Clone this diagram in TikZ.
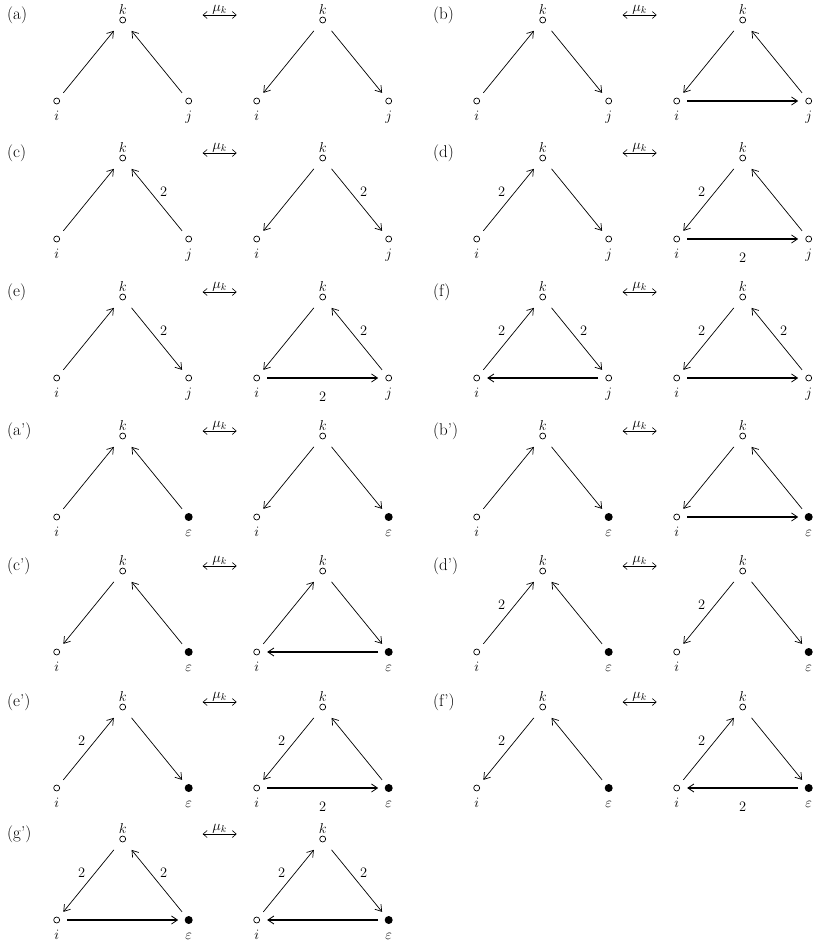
\documentclass[tikz,border=0pt]{standalone}
\usetikzlibrary{arrows.meta}
\begin{document}
\begin{tikzpicture}[x=1pt,y=-1pt,
  wn/.style={circle,draw,line width=0.7pt,minimum size=6pt,inner sep=0pt,outer sep=7.5pt},
  bn/.style={circle,fill,minimum size=8pt,inner sep=0pt,outer sep=6.5pt},
  kn/.style={wn,outer sep=11pt},
  lab/.style={font=\fontsize{14}{16}\selectfont,inner sep=0pt},
  plab/.style={font=\fontsize{17}{20}\selectfont,inner sep=0pt},
  e/.style={line width=0.7pt,-{Straight Barb[length=6pt,width=8pt,line width=0.7pt]}},
  eb/.style={line width=2.8pt,-{Straight Barb[length=6pt,width=8pt,line width=0.8pt]}},
  mu/.style={line width=0.6pt,{Straight Barb[length=4pt,width=7pt,line width=0.6pt]}-{Straight Barb[length=4pt,width=7pt,line width=0.6pt]}}]
\useasboundingbox (0,0) rectangle (817,944);
\newcommand\tri[5]{%
  \node[kn] (#1k) at (#2,#3) {};
  \node[wn] (#1i) at ({#2-66},{#3+81}) {};
  \node[#4] (#1j) at ({#2+66},{#3+81}) {};
  \node[lab,anchor=base] (#1kl) at (#2,{#3-5.5}) {$k$};
  \node[lab,anchor=base] (#1il) at ({#2-66},{#3+100.5}) {$i$};
  \node[lab,anchor=base] (#1jl) at ({#2+66},{#3+100.5}) {#5};}
\newcommand\panel[7]{%
  \tri{#1L}{#3}{#4}{#6}{#7}
  \tri{#1R}{#3+200}{#4}{#6}{#7}
  \node[plab,anchor=west] (#1lab) at (#2,{#4-5}) {#5};
  \coordinate (#1m1) at ({#3+80},{#4-5});
  \coordinate (#1m2) at ({#3+114},{#4-5});
  \draw[mu] (#1m1) -- node[lab,above=0.5pt] (#1mu) {$\mu_k$} (#1m2);}
\newcommand\twoR[1]{\path (#1k) ++(41,34) node[lab] (#1tR) {$2$};}
\newcommand\twoL[1]{\path (#1k) ++(-41,34) node[lab] (#1tL) {$2$};}
\newcommand\twoB[1]{\path (#1k) ++(0,100) node[lab] (#1tB) {$2$};}
% row 1
\panel{a}{7}{122.7}{20}{(a)}{wn}{$j$}
\draw[e] (aLi) -- (aLk); \draw[e] (aLj) -- (aLk);
\draw[e] (aRk) -- (aRi); \draw[e] (aRk) -- (aRj);
\panel{b}{433}{542.7}{20}{(b)}{wn}{$j$}
\draw[e] (bLi) -- (bLk); \draw[e] (bLk) -- (bLj);
\draw[e] (bRk) -- (bRi); \draw[e] (bRj) -- (bRk); \draw[eb] (bRi) -- (bRj);
% row 2
\panel{c}{7}{122.7}{158}{(c)}{wn}{$j$}
\draw[e] (cLi) -- (cLk); \draw[e] (cLj) -- (cLk); \twoR{cL}
\draw[e] (cRk) -- (cRi); \draw[e] (cRk) -- (cRj); \twoR{cR}
\panel{d}{433}{542.7}{158}{(d)}{wn}{$j$}
\draw[e] (dLi) -- (dLk); \twoL{dL} \draw[e] (dLk) -- (dLj);
\draw[e] (dRk) -- (dRi); \twoL{dR} \draw[e] (dRj) -- (dRk); \draw[eb] (dRi) -- (dRj); \twoB{dR}
% row 3
\panel{e}{7}{122.7}{297}{(e)}{wn}{$j$}
\draw[e] (eLi) -- (eLk); \draw[e] (eLk) -- (eLj); \twoR{eL}
\draw[e] (eRk) -- (eRi); \draw[e] (eRj) -- (eRk); \twoR{eR} \draw[eb] (eRi) -- (eRj); \twoB{eR}
\panel{f}{433}{542.7}{297}{(f)}{wn}{$j$}
\draw[e] (fLi) -- (fLk); \twoL{fL} \draw[e] (fLk) -- (fLj); \twoR{fL} \draw[eb] (fLj) -- (fLi);
\draw[e] (fRk) -- (fRi); \twoL{fR} \draw[e] (fRj) -- (fRk); \twoR{fR} \draw[eb] (fRi) -- (fRj);
% row 4
\panel{A}{7}{122.7}{436}{(a')}{bn}{$\varepsilon$}
\draw[e] (ALi) -- (ALk); \draw[e] (ALj) -- (ALk);
\draw[e] (ARk) -- (ARi); \draw[e] (ARk) -- (ARj);
\panel{B}{433}{542.7}{436}{(b')}{bn}{$\varepsilon$}
\draw[e] (BLi) -- (BLk); \draw[e] (BLk) -- (BLj);
\draw[e] (BRk) -- (BRi); \draw[e] (BRj) -- (BRk); \draw[eb] (BRi) -- (BRj);
% row 5
\panel{C}{7}{122.7}{571}{(c')}{bn}{$\varepsilon$}
\draw[e] (CLk) -- (CLi); \draw[e] (CLj) -- (CLk);
\draw[e] (CRi) -- (CRk); \draw[e] (CRk) -- (CRj); \draw[eb] (CRj) -- (CRi);
\panel{D}{433}{542.7}{571}{(d')}{bn}{$\varepsilon$}
\draw[e] (DLi) -- (DLk); \twoL{DL} \draw[e] (DLj) -- (DLk);
\draw[e] (DRk) -- (DRi); \twoL{DR} \draw[e] (DRk) -- (DRj);
% row 6
\panel{E}{7}{122.7}{707}{(e')}{bn}{$\varepsilon$}
\draw[e] (ELi) -- (ELk); \twoL{EL} \draw[e] (ELk) -- (ELj);
\draw[e] (ERk) -- (ERi); \twoL{ER} \draw[e] (ERj) -- (ERk); \draw[eb] (ERi) -- (ERj); \twoB{ER}
\panel{F}{433}{542.7}{707}{(f')}{bn}{$\varepsilon$}
\draw[e] (FLk) -- (FLi); \twoL{FL} \draw[e] (FLj) -- (FLk);
\draw[e] (FRi) -- (FRk); \twoL{FR} \draw[e] (FRk) -- (FRj); \draw[eb] (FRj) -- (FRi); \twoB{FR}
% row 7
\panel{G}{7}{122.7}{839}{(g')}{bn}{$\varepsilon$}
\draw[e] (GLk) -- (GLi); \twoL{GL} \draw[e] (GLj) -- (GLk); \twoR{GL} \draw[eb] (GLi) -- (GLj);
\draw[e] (GRi) -- (GRk); \twoL{GR} \draw[e] (GRk) -- (GRj); \twoR{GR} \draw[eb] (GRj) -- (GRi);
\end{tikzpicture}
\end{document}
